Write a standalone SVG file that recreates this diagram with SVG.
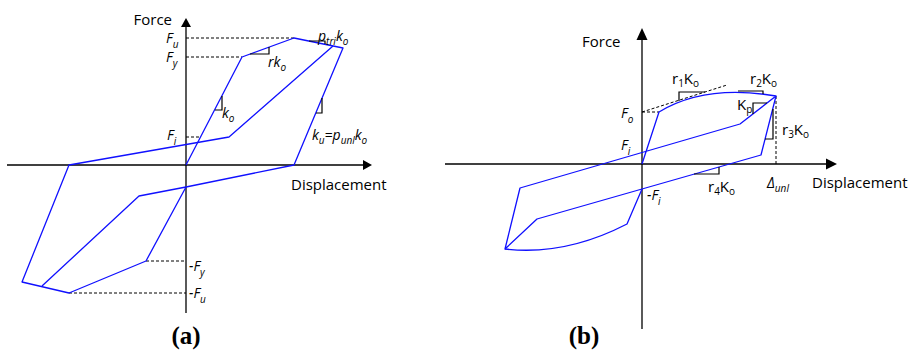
<svg xmlns="http://www.w3.org/2000/svg" width="918" height="350" viewBox="0 0 918 350">
<style>
.ax{stroke:#000;stroke-width:1.3;fill:none}
.cv{stroke:#1010ff;stroke-width:1.3;fill:none;stroke-linejoin:round}
.ds{stroke:#000;stroke-width:1;stroke-dasharray:3 2;fill:none}
.tri{stroke:#000;stroke-width:1.2;fill:none}
.ah{fill:#000}
text{font-family:"Open Sans","Noto Sans",sans-serif;font-size:14px;fill:#000}
.it{font-style:italic}
.sub{font-size:10px}
.lb{font-size:15px}
.cap{font-family:"Liberation Serif",serif;font-weight:bold;font-size:25px}
</style>
<rect width="918" height="350" fill="#fff"/>

<g id="panel-a">
  <g id="a-axes">
    <line class="ax" x1="7" y1="165" x2="364" y2="165"/>
    <polygon class="ah" points="372,165 363,160 363,170"/>
    <line class="ax" x1="186" y1="313" x2="186" y2="26"/>
    <polygon class="ah" points="186,18 181,27 191,27"/>
    <text class="lb" x="172" y="25" text-anchor="end">Force</text>
    <text class="lb" x="291" y="190">Displacement</text>
  </g>
  <g id="a-guides">
    <line class="ds" x1="186" y1="38" x2="294" y2="38"/>
    <line class="ds" x1="186" y1="57" x2="242" y2="57"/>
    <line class="ds" x1="186" y1="137" x2="200" y2="137"/>
    <line class="ds" x1="146" y1="261" x2="186" y2="261"/>
    <line class="ds" x1="69" y1="293" x2="186" y2="293"/>
  </g>
  <g id="a-curves">
    <polyline class="cv" points="186,165 242,57 294,38 343,48 294,165 186,187 139,196 42,286"/>
    <polyline class="cv" points="333,46 229,137 69,165 22,282 69,293 146,261 186,187"/>
  </g>
  <g id="a-slopes">
    <polyline class="tri" points="250,54 269,54 269,47"/>
    <polyline class="tri" points="309,41 325,41 325,44"/>
    <polyline class="tri" points="222,96 222,110 215,110"/>
    <polyline class="tri" points="322,98 322,113 316,113"/>
  </g>
  <g id="a-labels">
    <text class="it" x="166" y="43">F<tspan class="sub" dy="5">u</tspan></text>
    <text class="it" x="166" y="62">F<tspan class="sub" dy="5">y</tspan></text>
    <text class="it" x="167" y="140">F<tspan class="sub" dy="5">i</tspan></text>
    <text class="it" x="268" y="67">rk<tspan class="sub" dy="4">o</tspan></text>
    <text class="it" x="222" y="118">k<tspan class="sub" dy="4">o</tspan></text>
    <text class="it" x="318" y="41">p<tspan class="sub" dy="4">tri</tspan><tspan dy="-4">k</tspan><tspan class="sub" dy="4">o</tspan></text>
    <text class="it" x="312" y="140">k<tspan class="sub" dy="4">u</tspan><tspan dy="-4">=p</tspan><tspan class="sub" dy="4">unl</tspan><tspan dy="-4">k</tspan><tspan class="sub" dy="4">o</tspan></text>
    <text class="it" x="189" y="271">-F<tspan class="sub" dy="5">y</tspan></text>
    <text class="it" x="189" y="298">-F<tspan class="sub" dy="5">u</tspan></text>
  </g>
  <text class="cap" x="186" y="344" text-anchor="middle">(a)</text>
</g>

<g id="panel-b">
  <g id="b-axes">
    <line class="ax" x1="445" y1="164" x2="828" y2="164"/>
    <polygon class="ah" points="837,164 826,158.5 826,169.5"/>
    <line class="ax" x1="642" y1="329" x2="642" y2="39"/>
    <polygon class="ah" points="642,28 636.5,40 647.5,40"/>
    <text class="lb" x="582" y="47">Force</text>
    <text class="lb" x="812" y="188">Displacement</text>
  </g>
  <g id="b-guides">
    <line class="ds" x1="642" y1="112" x2="727" y2="85"/>
    <line class="ds" x1="642" y1="112" x2="659" y2="112"/>
    <line class="ds" x1="776" y1="96" x2="776" y2="164"/>
  </g>
  <g id="b-curves">
    <path class="cv" d="M642,164 L659,112 Q705,84 776,96 L761,155 L537,219 L505,249 L520,188 L740,124 L776,96"/>
    <path class="cv" d="M505,249 Q565,256 627,224 L642,189"/>
  </g>
  <g id="b-slopes">
    <polyline class="tri" points="679,101 679,92 705,92"/>
    <polyline class="tri" points="738,91 763,91 763,94"/>
    <polyline class="tri" points="753,114 753,103 767,103"/>
    <polyline class="tri" points="773,109 773,139 765,139"/>
    <polyline class="tri" points="694,174 719,174 719,167"/>
  </g>
  <g id="b-labels">
    <text class="it" x="621" y="118">F<tspan class="sub" dy="5">o</tspan></text>
    <text class="it" x="621" y="150">F<tspan class="sub" dy="5">i</tspan></text>
    <text class="it" x="647" y="200">-F<tspan class="sub" dy="5">i</tspan></text>
    <text class="lb" x="672" y="84">r<tspan class="sub" dy="3">1</tspan><tspan dy="-3">K</tspan><tspan class="sub" dy="3">o</tspan></text>
    <text class="lb" x="750" y="84">r<tspan class="sub" dy="3">2</tspan><tspan dy="-3">K</tspan><tspan class="sub" dy="3">o</tspan></text>
    <text class="lb" x="737" y="110">K<tspan class="sub" dy="3">p</tspan></text>
    <text class="lb" x="782" y="135">r<tspan class="sub" dy="3">3</tspan><tspan dy="-3">K</tspan><tspan class="sub" dy="3">o</tspan></text>
    <text class="lb" x="708" y="192">r<tspan class="sub" dy="3">4</tspan><tspan dy="-3">K</tspan><tspan class="sub" dy="3">o</tspan></text>
    <text class="it" x="767" y="188">Δ<tspan class="sub" dy="4">unl</tspan></text>
  </g>
  <text class="cap" x="584" y="344" text-anchor="middle">(b)</text>
</g>
</svg>
